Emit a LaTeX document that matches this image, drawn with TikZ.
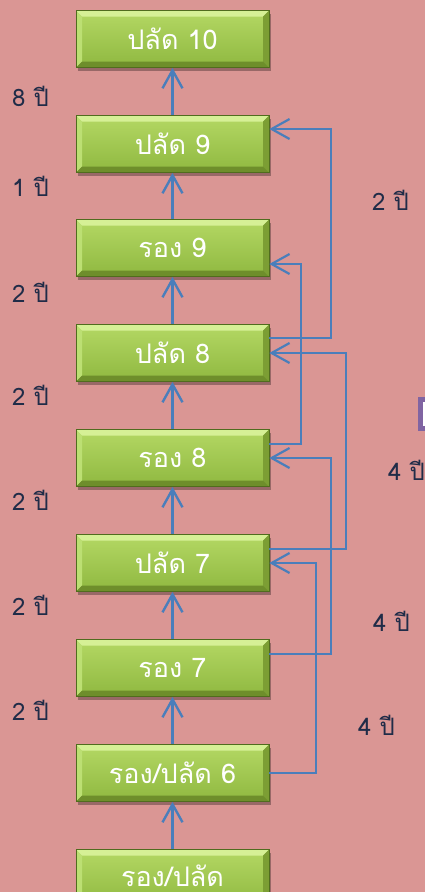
\documentclass[tikz,border=0pt]{standalone}
\usepackage{fontspec}
\newfontfamily\thai[Script=Thai]{Loma}
\usetikzlibrary{arrows.meta,shadows}
\definecolor{bg}{RGB}{218,150,148}
\definecolor{faceT}{RGB}{180,216,100}
\definecolor{faceB}{RGB}{143,184,64}
\definecolor{bevT}{RGB}{214,240,150}
\definecolor{bevL}{RGB}{188,223,115}
\definecolor{bevR}{RGB}{124,158,52}
\definecolor{bevB}{RGB}{110,142,43}
\definecolor{edge}{RGB}{80,108,30}
\definecolor{arrowblue}{RGB}{74,126,187}
\definecolor{navy}{RGB}{32,44,72}
\definecolor{purp}{RGB}{128,100,162}
\tikzset{
  box/.style={minimum width=193pt, minimum height=57pt, inner sep=0pt, text=white,
    font=\thai\fontsize{27}{30}\selectfont, top color=faceT, bottom color=faceB,
    draw=edge, line width=0.6pt,
    drop shadow={shadow xshift=2pt, shadow yshift=-3pt, fill=black, opacity=0.3},
    path picture={
      \fill[bevT] (path picture bounding box.north west) -- (path picture bounding box.north east)
        -- ([xshift=-6pt,yshift=-6pt]path picture bounding box.north east)
        -- ([xshift=6pt,yshift=-6pt]path picture bounding box.north west) -- cycle;
      \fill[bevL] (path picture bounding box.north west) -- (path picture bounding box.south west)
        -- ([xshift=6pt,yshift=6pt]path picture bounding box.south west)
        -- ([xshift=6pt,yshift=-6pt]path picture bounding box.north west) -- cycle;
      \fill[bevR] (path picture bounding box.north east) -- (path picture bounding box.south east)
        -- ([xshift=-6pt,yshift=6pt]path picture bounding box.south east)
        -- ([xshift=-6pt,yshift=-6pt]path picture bounding box.north east) -- cycle;
      \fill[bevB] (path picture bounding box.south west) -- (path picture bounding box.south east)
        -- ([xshift=-6pt,yshift=6pt]path picture bounding box.south east)
        -- ([xshift=6pt,yshift=6pt]path picture bounding box.south west) -- cycle;
    }},
  conn/.style={draw=arrowblue, line width=2.4pt, -{Straight Barb[length=18pt,width=20pt]}},
  lbl/.style={text=navy, font=\thai\fontsize{24}{28}\selectfont, anchor=base west, inner sep=0pt}
}
\begin{document}
\begin{tikzpicture}[x=1pt,y=-1pt]
\clip (0,0) rectangle (425,892);
\fill[bg] (0,0) rectangle (425,892);

% boxes
\node[box] (b10) at (172.5,39) {ปลัด 10};
\node[box] (b9)  at (172.5,144) {ปลัด 9};
\node[box] (r9)  at (172.5,248) {รอง 9};
\node[box] (b8)  at (172.5,353) {ปลัด 8};
\node[box] (r8)  at (172.5,458) {รอง 8};
\node[box] (b7)  at (172.5,563) {ปลัด 7};
\node[box] (r7)  at (172.5,668) {รอง 7};
\node[box] (b6)  at (172.5,773) {รอง/ปลัด 6};
\node[box] (b5)  at (172.5,878) {\raisebox{4pt}{รอง/ปลัด}};

% vertical arrows
\draw[conn] (b9.north) -- (b10.south);
\draw[conn] (r9.north) -- (b9.south);
\draw[conn] (b8.north) -- (r9.south);
\draw[conn] (r8.north) -- (b8.south);
\draw[conn] (b7.north) -- (r8.south);
\draw[conn] (r7.north) -- (b7.south);
\draw[conn] (b6.north) -- (r7.south);
\draw[conn] (b5.north) -- (b6.south);

% right side connectors
\draw[conn, line width=2.2pt] ([yshift=15pt]b8.east) -- ++(62pt,0) |- ([yshift=15pt]b9.east);
\draw[conn, line width=2.2pt] ([yshift=14pt]r8.east) -- ++(32pt,0) |- ([yshift=-16pt]r9.east);
\draw[conn, line width=2.2pt] ([yshift=14pt]r7.east) -- ++(62pt,0) |- (r8.east);
\draw[conn, line width=2.2pt] ([yshift=14pt]b7.east) -- ++(77pt,0) |- (b8.east);
\draw[conn, line width=2.2pt] (b6.east) -- ++(47pt,0) |- (b7.east);

% left labels
\node[lbl] (l1) at (12,106) {8 ปี};
\node[lbl] (l2) at (12,196) {1 ปี};
\node[lbl] (l3) at (12,302) {2 ปี};
\node[lbl] (l4) at (12,405) {2 ปี};
\node[lbl] (l5) at (12,510) {2 ปี};
\node[lbl] (l6) at (12,615) {2 ปี};
\node[lbl] (l7) at (12,720) {2 ปี};

% right labels
\node[lbl] (rl1) at (372,210) {2 ปี};
\node[lbl] (rl2) at (388,480) {4 ปี};
\node[lbl] (rl3) at (373,631) {4 ปี};
\node[lbl] (rl4) at (358,735) {4 ปี};

% partial purple frame at right edge
\draw[purp, line width=5pt, fill=white] (420.5,399.5) rectangle (450,428.5);
\end{tikzpicture}
\end{document}
